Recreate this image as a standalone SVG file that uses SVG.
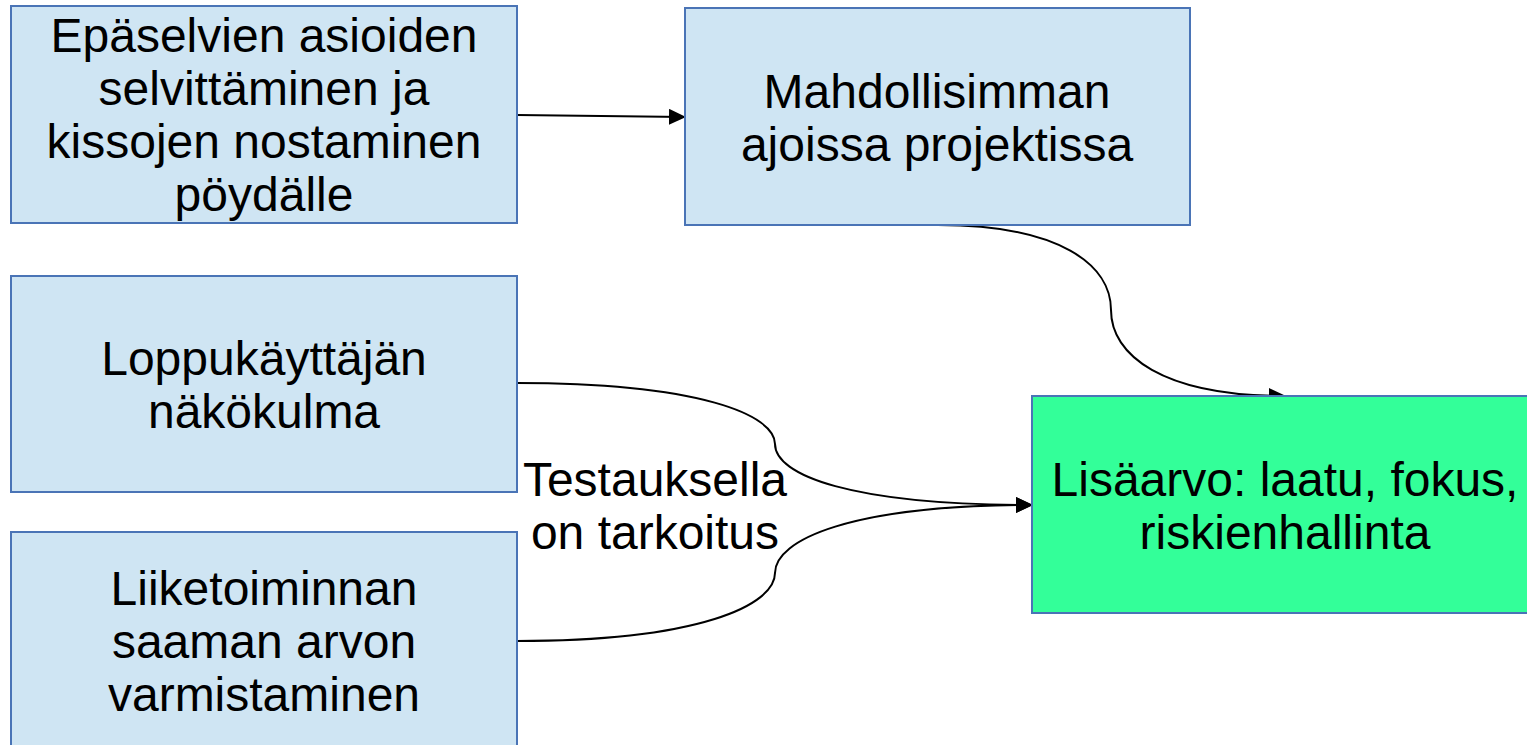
<svg xmlns="http://www.w3.org/2000/svg" width="1527" height="745" viewBox="0 0 1527 745">
  <style>
    .box { fill: #cfe5f3; stroke: #4a74b6; stroke-width: 2; }
    .goal { fill: #33ff99; stroke: #4a74b6; stroke-width: 2; }
    .lbl { font-family: "Liberation Sans", Arial, sans-serif; font-size: 48px; fill: #000; text-anchor: middle; }
    .edge { fill: none; stroke: #000; stroke-width: 2; marker-end: url(#arrow); }
  </style>
  <defs>
    <!-- filled triangular arrowhead -->
    <marker id="arrow" viewBox="0 0 17 16" refX="16" refY="8" markerWidth="17" markerHeight="16" markerUnits="userSpaceOnUse" orient="auto">
      <path d="M0,0 L17,8 L0,16 Z" fill="#000"/>
    </marker>
  </defs>
  <rect width="1527" height="745" fill="#fff"/>

  <g id="connectors">
    <path class="edge" d="M517,115 L685,117"/>
    <path class="edge" d="M938,225 C1060,225 1111,265 1111,310 C1111,355 1162,396 1285,396"/>
    <path class="edge" d="M517,383 C700,383 775,415 775,444 C775,475 850,505 1032,505"/>
    <path class="edge" d="M517,641 C700,641 775,605 775,573 C775,540 850,505 1032,505"/>
  </g>

  <g id="node-epaselvat">
    <rect class="box" x="11" y="6" width="506" height="217"/>
    <text class="lbl" x="264" y="52">Epäselvien asioiden</text>
    <text class="lbl" x="264" y="105">selvittäminen ja</text>
    <text class="lbl" x="264" y="158">kissojen nostaminen</text>
    <text class="lbl" x="264" y="211">pöydälle</text>
  </g>

  <g id="node-ajoissa">
    <rect class="box" x="685" y="8" width="505" height="217"/>
    <text class="lbl" x="937" y="108">Mahdollisimman</text>
    <text class="lbl" x="937" y="161">ajoissa projektissa</text>
  </g>

  <g id="node-loppukayttaja">
    <rect class="box" x="11" y="276" width="506" height="216"/>
    <text class="lbl" x="264" y="375">Loppukäyttäjän</text>
    <text class="lbl" x="264" y="428">näkökulma</text>
  </g>

  <g id="node-liiketoiminta">
    <rect class="box" x="11" y="532" width="506" height="230"/>
    <text class="lbl" x="264" y="605">Liiketoiminnan</text>
    <text class="lbl" x="264" y="658">saaman arvon</text>
    <text class="lbl" x="264" y="711">varmistaminen</text>
  </g>

  <g id="node-lisaarvo">
    <rect class="goal" x="1032" y="396" width="506" height="217"/>
    <text class="lbl" x="1285" y="496">Lisäarvo: laatu, fokus,</text>
    <text class="lbl" x="1285" y="549">riskienhallinta</text>
  </g>

  <g id="label-testauksella">
    <text class="lbl" x="655" y="496">Testauksella</text>
    <text class="lbl" x="655" y="549">on tarkoitus</text>
  </g>
</svg>
